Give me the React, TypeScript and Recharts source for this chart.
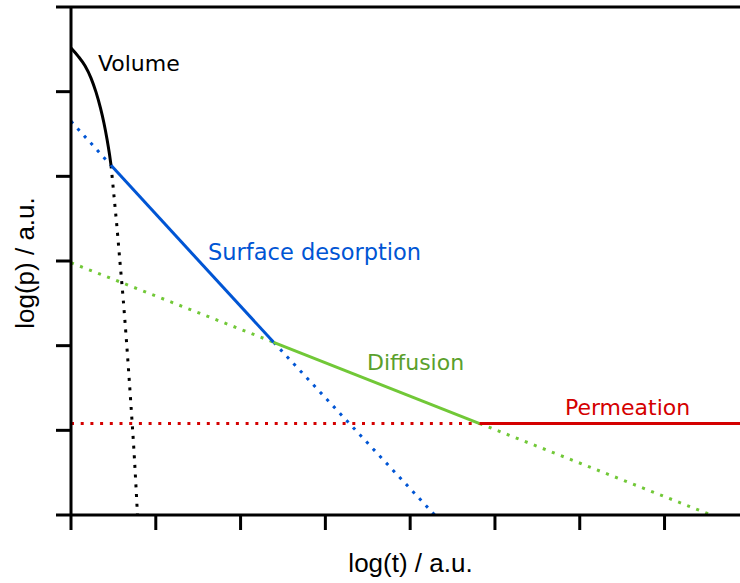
import React from 'react';
import { ComposedChart, Line, XAxis, YAxis, ReferenceLine, Scatter, Label } from 'recharts';

// Volume curve (solid) and its dotted continuation
const volumeX = [0, 0.083, 0.165, 0.236, 0.295, 0.348, 0.389, 0.425, 0.454, 0.472];
const volumeY = [5.515, 5.42, 5.305, 5.16, 4.994, 4.805, 4.627, 4.438, 4.26, 4.13];
const volumeTailX = [0.472, 0.495, 0.518, 0.537, 0.575, 0.616, 0.651, 0.706, 0.749, 0.784];
const volumeTailY = [4.13, 3.893, 3.654, 3.456, 3.018, 2.544, 2.095, 1.314, 0.651, 0];

// Surface desorption line
const surfaceDotLeftX = [0, 0.472];
const surfaceDotLeftY = [4.65, 4.13];
const surfaceX = [0.472, 2.39];
const surfaceY = [4.13, 2.04];
const surfaceDotRightX = [2.39, 4.29];
const surfaceDotRightY = [2.04, 0];

// Diffusion line
const diffusionDotLeftX = [0, 2.39];
const diffusionDotLeftY = [2.98, 2.04];
const diffusionX = [2.39, 4.82];
const diffusionY = [2.04, 1.08];
const diffusionDotRightX = [4.82, 7.55];
const diffusionDotRightY = [1.08, 0];

// Permeation line
const permeationDotX = [0, 4.82];
const permeationDotY = [1.08, 1.08];
const permeationX = [4.82, 7.89];
const permeationY = [1.08, 1.08];

// Annotation labels
const labelTexts = ['Volume', 'Surface desorption', 'Diffusion', 'Permeation'];
const labelX = [0.318, 1.616, 3.491, 5.825];
const labelY = [5.243, 3.006, 1.716, 1.183];
const labelColors = ['#000000', '#0055d4', '#5aa02c', '#d40000'];

const xTicks = [0, 1, 2, 3, 4, 5, 6, 7];
const yTicks = [0, 1, 2, 3, 4, 5, 6];
const X_MAX = 7.89;
const Y_MAX = 6;

const BLACK = '#000000';
const BLUE = '#0055d4';
const GREEN = '#71c837';
const RED = '#d40000';
const DOTS = '3 6.7';

const zip = (xs: number[], ys: number[]) => xs.map((x, i) => ({ x, y: ys[i] }));

const labelData = labelTexts.map((t, i) => ({ x: labelX[i], y: labelY[i], text: t, color: labelColors[i] }));

const LabelShape = (props: any) => {
  const { cx, cy, payload } = props;
  return (
    <text
      x={cx}
      y={cy}
      fill={payload.color}
      fontFamily="'DejaVu Sans', Verdana, sans-serif"
      fontSize={payload.text === 'Surface desorption' ? 22.5 : 22}
      textAnchor="start"
    >
      {payload.text}
    </text>
  );
};

const EmptyTick = () => <g />;

const axisFont = "'Liberation Sans', Arial, sans-serif";

export default function App() {
  const series: { xs: number[]; ys: number[]; color: string; dashed: boolean; type: 'monotone' | 'linear' }[] = [
    { xs: surfaceDotLeftX, ys: surfaceDotLeftY, color: BLUE, dashed: true, type: 'linear' },
    { xs: surfaceDotRightX, ys: surfaceDotRightY, color: BLUE, dashed: true, type: 'linear' },
    { xs: diffusionDotLeftX, ys: diffusionDotLeftY, color: GREEN, dashed: true, type: 'linear' },
    { xs: diffusionDotRightX, ys: diffusionDotRightY, color: GREEN, dashed: true, type: 'linear' },
    { xs: permeationDotX, ys: permeationDotY, color: RED, dashed: true, type: 'linear' },
    { xs: volumeTailX, ys: volumeTailY, color: BLACK, dashed: true, type: 'monotone' },
    { xs: volumeX, ys: volumeY, color: BLACK, dashed: false, type: 'monotone' },
    { xs: surfaceX, ys: surfaceY, color: BLUE, dashed: false, type: 'linear' },
    { xs: diffusionX, ys: diffusionY, color: GREEN, dashed: false, type: 'linear' },
    { xs: permeationX, ys: permeationY, color: RED, dashed: false, type: 'linear' },
  ];

  return (
    <div style={{ position: 'absolute', left: 0, top: 0, width: 740, height: 583, background: '#fff' }}>
      <ComposedChart width={740} height={583} margin={{ top: 7, right: 0, bottom: 0, left: 0 }}>
        <XAxis
          type="number"
          dataKey="x"
          domain={[0, X_MAX]}
          ticks={xTicks}
          allowDataOverflow
          tick={EmptyTick}
          tickSize={15}
          height={68}
          axisLine={{ stroke: BLACK, strokeWidth: 3 }}
          tickLine={{ stroke: BLACK, strokeWidth: 3 }}
        >
          <Label
            content={(p: any) => {
              const vb = p.viewBox;
              return (
                <text
                  x={vb.x + vb.width / 2 + 5}
                  y={vb.y + vb.height - 11}
                  textAnchor="middle"
                  fontFamily={axisFont}
                  fontSize={26}
                  fill={BLACK}
                >
                  log(t) / a.u.
                </text>
              );
            }}
          />
        </XAxis>
        <YAxis
          type="number"
          dataKey="y"
          domain={[0, Y_MAX]}
          ticks={yTicks}
          allowDataOverflow
          tick={EmptyTick}
          tickSize={15}
          width={71}
          axisLine={{ stroke: BLACK, strokeWidth: 3 }}
          tickLine={{ stroke: BLACK, strokeWidth: 3 }}
        >
          <Label
            content={(p: any) => {
              const vb = p.viewBox;
              const cx = vb.x + 34;
              const cy = vb.y + vb.height / 2 + 2;
              return (
                <text
                  x={cx}
                  y={cy}
                  transform={`rotate(-90, ${cx}, ${cy})`}
                  textAnchor="middle"
                  fontFamily={axisFont}
                  fontSize={26}
                  fill={BLACK}
                >
                  log(p) / a.u.
                </text>
              );
            }}
          />
        </YAxis>
        <ReferenceLine y={Y_MAX} stroke={BLACK} strokeWidth={3} />
        {series.map((s, i) => (
          <Line
            key={i}
            data={zip(s.xs, s.ys)}
            dataKey="y"
            type={s.type}
            stroke={s.color}
            strokeWidth={3}
            strokeDasharray={s.dashed ? DOTS : undefined}
            dot={false}
            activeDot={false}
            isAnimationActive={false}
          />
        ))}
        <Scatter data={labelData} dataKey="y" shape={LabelShape} isAnimationActive={false} />
      </ComposedChart>
    </div>
  );
}
